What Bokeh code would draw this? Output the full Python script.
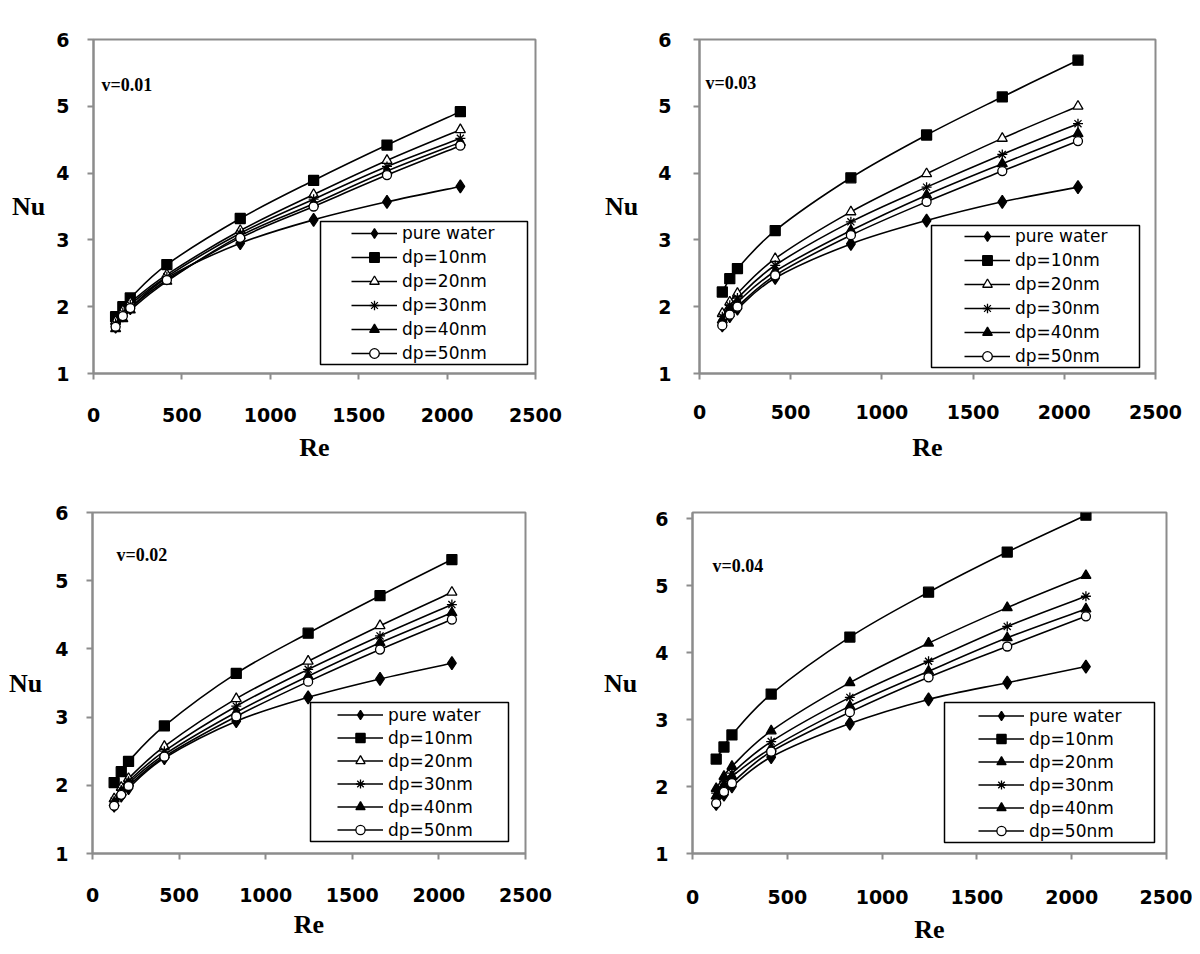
from bokeh.plotting import figure
from bokeh.layouts import column, row
from bokeh.models import (Legend, LegendItem, Label, FixedTicker, Range1d,
                          ColumnDataSource, BoxAnnotation)
from bokeh.embed import file_html
from bokeh.resources import INLINE

# ---------------- data ----------------
re_values = [125, 166, 208, 415, 830, 1245, 1660, 2075]
series_labels = ["pure water", "dp=10nm", "dp=20nm", "dp=30nm", "dp=40nm", "dp=50nm"]
x_ticks = [0, 500, 1000, 1500, 2000, 2500]
y_ticks = [1, 2, 3, 4, 5, 6]
panel_titles = ["v=0.01", "v=0.03", "v=0.02", "v=0.04"]

v001_water = [1.70, 1.87, 1.98, 2.43, 2.95, 3.30, 3.57, 3.80]
v001_dp10 = [1.85, 2.00, 2.13, 2.63, 3.32, 3.89, 4.42, 4.92]
v001_dp20 = [1.78, 1.94, 2.06, 2.48, 3.14, 3.68, 4.19, 4.65]
v001_dp30 = [1.75, 1.91, 2.03, 2.45, 3.10, 3.61, 4.10, 4.52]
v001_dp40 = [1.67, 1.82, 1.95, 2.38, 3.06, 3.54, 4.03, 4.46]
v001_dp50 = [1.70, 1.86, 1.98, 2.40, 3.03, 3.50, 3.97, 4.41]

v003_water = [1.72, 1.86, 1.97, 2.43, 2.94, 3.29, 3.57, 3.79]
v003_dp10 = [2.22, 2.42, 2.57, 3.14, 3.93, 4.57, 5.14, 5.69]
v003_dp20 = [1.90, 2.07, 2.20, 2.72, 3.42, 3.99, 4.52, 5.00]
v003_dp30 = [1.85, 2.02, 2.13, 2.62, 3.27, 3.79, 4.28, 4.74]
v003_dp40 = [1.80, 1.96, 2.07, 2.53, 3.14, 3.67, 4.14, 4.59]
v003_dp50 = [1.72, 1.88, 2.00, 2.47, 3.07, 3.57, 4.03, 4.48]

v002_water = [1.70, 1.85, 1.96, 2.40, 2.94, 3.29, 3.56, 3.79]
v002_dp10 = [2.04, 2.20, 2.35, 2.87, 3.64, 4.23, 4.78, 5.31]
v002_dp20 = [1.80, 1.97, 2.10, 2.57, 3.27, 3.82, 4.34, 4.83]
v002_dp30 = [1.77, 1.93, 2.06, 2.50, 3.16, 3.70, 4.19, 4.65]
v002_dp40 = [1.74, 1.90, 2.03, 2.45, 3.07, 3.60, 4.09, 4.53]
v002_dp50 = [1.70, 1.86, 1.99, 2.42, 3.01, 3.52, 3.99, 4.43]

v004_water = [1.74, 1.88, 2.00, 2.44, 2.94, 3.30, 3.55, 3.79]
v004_dp10 = [2.41, 2.59, 2.77, 3.38, 4.23, 4.90, 5.50, 6.05]
v004_dp20 = [1.97, 2.15, 2.30, 2.83, 3.55, 4.14, 4.67, 5.15]
v004_dp30 = [1.90, 2.08, 2.20, 2.67, 3.33, 3.87, 4.39, 4.84]
v004_dp40 = [1.86, 2.02, 2.15, 2.57, 3.20, 3.72, 4.22, 4.65]
v004_dp50 = [1.75, 1.92, 2.05, 2.52, 3.11, 3.63, 4.09, 4.54]

panel_series = [
    [v001_water, v001_dp10, v001_dp20, v001_dp30, v001_dp40, v001_dp50],
    [v003_water, v003_dp10, v003_dp20, v003_dp30, v003_dp40, v003_dp50],
    [v002_water, v002_dp10, v002_dp20, v002_dp30, v002_dp40, v002_dp50],
    [v004_water, v004_dp10, v004_dp20, v004_dp30, v004_dp40, v004_dp50],
]

# ---------------- styles / layout ----------------
GRAY = "#8c8c8c"
TICK_FONT = "DejaVu Sans"
SERIF = "Liberation Serif"

marker_styles = [
    dict(marker="diamond", size=13, fill="black"),
    dict(marker="square", size=10, fill="black"),
    dict(marker="triangle", size=10, fill="white"),
    dict(marker="asterisk", size=10, fill="black"),
    dict(marker="triangle", size=10, fill="black"),
    dict(marker="circle", size=9, fill="white"),
]

# per panel: figure size, borders, y max, standoffs, legend box / legend anchor, title pos
panel_layout = [
    dict(w=600, h=477, l=93, r=65, t=38, b=100, ymax=6.0, ystand=18, nustand=8,
         xstand=28, restand=8, box=(227, 434, 9, 152), lg=(258, 8), rowh=24, vl=(8, 289)),
    dict(w=592, h=477, l=99, r=37, t=39, b=104, ymax=6.0, ystand=22, nustand=17,
         xstand=25, restand=11, box=(232, 440, 6, 148), lg=(265, 5), rowh=24, vl=(6, 291)),
    dict(w=600, h=469, l=92, r=75, t=35, b=92, ymax=6.0, ystand=18, nustand=10,
         xstand=28, restand=5, box=(218, 416, 12, 151), lg=(245, 12), rowh=23, vl=(24, 299)),
    dict(w=592, h=469, l=92, r=26, t=35, b=90, ymax=6.09, ystand=18, nustand=15,
         xstand=30, restand=8, box=(252, 462, 11, 151), lg=(286, 11), rowh=23, vl=(20, 288)),
]


def smooth_segments(xs, ys):
    """Cubic Bezier control points (Catmull-Rom style, like spreadsheet smoothed lines)."""
    n = len(xs)
    d = dict(x0=[], y0=[], x1=[], y1=[], cx0=[], cy0=[], cx1=[], cy1=[])
    for i in range(n - 1):
        a = i - 1 if i > 0 else i
        b = i + 2 if i + 2 < n else i + 1
        d["x0"].append(xs[i]); d["y0"].append(ys[i])
        d["x1"].append(xs[i + 1]); d["y1"].append(ys[i + 1])
        d["cx0"].append(xs[i] + (xs[i + 1] - xs[a]) / 6.0)
        d["cy0"].append(ys[i] + (ys[i + 1] - ys[a]) / 6.0)
        d["cx1"].append(xs[i + 1] - (xs[b] - xs[i]) / 6.0)
        d["cy1"].append(ys[i + 1] - (ys[b] - ys[i]) / 6.0)
    return d


def make_panel(idx):
    lay = panel_layout[idx]
    p = figure(width=lay["w"], height=lay["h"], output_backend="svg", toolbar_location=None,
               x_range=Range1d(0, 2500), y_range=Range1d(1, lay["ymax"]),
               min_border_left=lay["l"], min_border_right=lay["r"],
               min_border_top=lay["t"], min_border_bottom=lay["b"],
               background_fill_color="white", border_fill_color="white")
    p.outline_line_color = GRAY
    p.outline_line_width = 2
    p.xgrid.visible = False
    p.ygrid.visible = False

    for ax in (p.xaxis[0], p.yaxis[0]):
        ax.axis_line_color = GRAY
        ax.axis_line_width = 2
        ax.major_tick_line_color = GRAY
        ax.major_tick_line_width = 2
        ax.major_tick_out = 6
        ax.major_tick_in = 0
        ax.minor_tick_line_color = None
        ax.major_label_text_font = TICK_FONT
        ax.major_label_text_font_style = "bold"
        ax.major_label_text_font_size = "19px"
        ax.major_label_text_color = "black"
        ax.axis_label_text_font = SERIF
        ax.axis_label_text_font_style = "bold"
        ax.axis_label_text_font_size = "26px"
        ax.axis_label_text_color = "black"

    p.xaxis.ticker = FixedTicker(ticks=x_ticks)
    p.yaxis.ticker = FixedTicker(ticks=y_ticks)
    p.xaxis.major_label_standoff = lay["xstand"]
    p.yaxis.major_label_standoff = lay["ystand"]
    p.xaxis.axis_label = "Re"
    p.xaxis.axis_label_standoff = lay["restand"]
    p.yaxis.axis_label = "Nu"
    p.yaxis.axis_label_orientation = "horizontal"
    p.yaxis.axis_label_standoff = lay["nustand"]

    items = []
    for s, ys in enumerate(panel_series[idx]):
        st = dict(marker_styles[s])
        if idx == 3 and s == 2:
            st["fill"] = "black"  # v=0.04 panel uses filled triangles for dp=20nm
        bez = p.bezier(source=ColumnDataSource(smooth_segments(re_values, ys)),
                       x0="x0", y0="y0", x1="x1", y1="y1",
                       cx0="cx0", cy0="cy0", cx1="cx1", cy1="cy1",
                       line_color="black", line_width=1.6)
        sc = p.scatter(re_values, ys, marker=st["marker"], size=st["size"],
                       fill_color=st["fill"], line_color="black", line_width=1.3)
        items.append(LegendItem(label=series_labels[s], renderers=[bez, sc]))

    bl, br, bb, bt = lay["box"]
    p.add_layout(BoxAnnotation(left=bl, right=br, bottom=bb, top=bt,
                               left_units="screen", right_units="screen",
                               bottom_units="screen", top_units="screen",
                               fill_color="white", fill_alpha=1.0,
                               line_color="black", line_width=1.5, line_alpha=1.0))

    legend = Legend(items=items, location=lay["lg"])
    legend.label_text_font = TICK_FONT
    legend.label_text_font_size = "17px"
    legend.label_text_color = "black"
    legend.glyph_width = 46
    legend.glyph_height = lay["rowh"]
    legend.label_height = lay["rowh"]
    legend.spacing = 0
    legend.padding = 0
    legend.margin = 0
    legend.label_standoff = 5
    legend.border_line_color = None
    legend.background_fill_alpha = 0.0
    p.add_layout(legend)

    vx, vy = lay["vl"]
    p.add_layout(Label(x=vx, y=vy, x_units="screen", y_units="screen", text=panel_titles[idx],
                       text_font=SERIF, text_font_style="bold", text_font_size="18px",
                       text_align="left", text_baseline="middle", text_color="black"))
    return p


panels = [make_panel(i) for i in range(4)]
layout = column(row(panels[0], panels[1]), row(panels[2], panels[3]))

open("out.html", "w").write(file_html(layout, INLINE))
